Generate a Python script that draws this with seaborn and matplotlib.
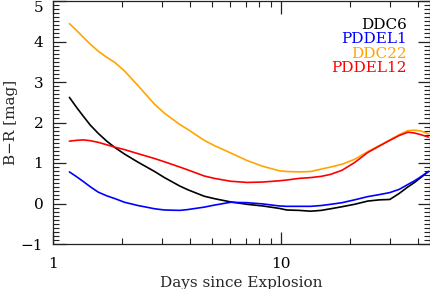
import numpy as np
import pandas as pd
import matplotlib
matplotlib.use("Agg")
import matplotlib.pyplot as plt
import matplotlib.ticker as mticker
import seaborn as sns

# ---- data ----
days = [1.18, 1.27, 1.36, 1.46, 1.58, 1.72, 1.87, 2.06, 2.36, 2.79, 3.08, 3.6, 3.9, 4.6,
        5.1, 6.0, 7.1, 8.3, 9.8, 10.6, 12, 13.5, 15, 16.5, 18.5, 21, 24, 27, 30, 33, 36,
        38.5, 41, 44.3]
ddc6 = [2.62, 2.37, 2.15, 1.93, 1.73, 1.54, 1.38, 1.22, 1.02, 0.79, 0.64, 0.43, 0.34, 0.18,
        0.12, 0.04, -0.02, -0.06, -0.12, -0.16, -0.17, -0.19, -0.17, -0.13, -0.08, -0.02,
        0.06, 0.09, 0.10, 0.25, 0.41, 0.52, 0.64, 0.79]
pddel1 = [0.78, 0.66, 0.54, 0.41, 0.28, 0.19, 0.12, 0.03, -0.05, -0.13, -0.16, -0.17, -0.15,
          -0.09, -0.04, 0.03, 0.02, -0.01, -0.06, -0.07, -0.07, -0.07, -0.05, -0.02, 0.02,
          0.09, 0.17, 0.22, 0.27, 0.35, 0.47, 0.56, 0.66, 0.79]
ddc22 = [4.44, 4.27, 4.10, 3.93, 3.76, 3.61, 3.48, 3.27, 2.91, 2.45, 2.23, 1.95, 1.83, 1.56,
         1.43, 1.25, 1.06, 0.92, 0.81, 0.79, 0.78, 0.79, 0.85, 0.90, 0.97, 1.09, 1.28, 1.43,
         1.57, 1.70, 1.80, 1.81, 1.79, 1.72]
pddel12 = [1.54, 1.56, 1.57, 1.55, 1.51, 1.45, 1.39, 1.33, 1.23, 1.11, 1.03, 0.90, 0.83, 0.68,
           0.62, 0.55, 0.52, 0.53, 0.56, 0.58, 0.62, 0.64, 0.67, 0.72, 0.82, 1.01, 1.26, 1.42,
           1.56, 1.68, 1.76, 1.74, 1.70, 1.64]
models = ["DDC6", "PDDEL1", "DDC22", "PDDEL12"]
colors = ["black", "blue", "orange", "red"]
series = [ddc6, pddel1, ddc22, pddel12]
y_ticks = [-1, 0, 1, 2, 3, 4, 5]
x_ticks = [1, 10]
x_ticklabels = ["1", "10"]

df = pd.DataFrame({
    "days": np.tile(days, len(models)),
    "color": np.concatenate(series),
    "model": np.repeat(models, len(days)),
})

sns.set_theme(style="ticks")
plt.rcParams["font.family"] = ["DejaVu Serif"]
plt.rcParams["axes.unicode_minus"] = True

fig = plt.figure(figsize=(4.31, 2.89), dpi=100)
ax = fig.add_axes([53 / 431, 1 - 244 / 289, 377 / 431, 243 / 289])

sns.lineplot(data=df, x="days", y="color", hue="model", hue_order=models,
             palette=dict(zip(models, colors)), linewidth=1.2, legend=False,
             estimator=None, sort=False, ax=ax)

ax.set_xscale("log")
ax.set_xlim(1, 45)
ax.set_ylim(-1, 5)
ax.xaxis.set_major_locator(mticker.FixedLocator(x_ticks))
ax.xaxis.set_major_formatter(mticker.FixedFormatter(x_ticklabels))
ax.xaxis.set_minor_locator(mticker.LogLocator(base=10, subs=np.arange(2, 10)))
ax.xaxis.set_minor_formatter(mticker.NullFormatter())
ax.yaxis.set_major_locator(mticker.FixedLocator(y_ticks))
ax.yaxis.set_minor_locator(mticker.MultipleLocator(0.1))

ax.tick_params(which="both", direction="in", top=True, right=True, colors="#222222",
               labelcolor="black", labelsize=11)
ax.tick_params(which="major", length=9, width=0.9)
ax.tick_params(which="minor", length=4.5, width=0.8)
ax.tick_params(axis="x", which="major", pad=9)
ax.tick_params(axis="y", which="major", pad=7)
for s in ax.spines.values():
    s.set_color("#222222")
    s.set_linewidth(0.9)

ax.set_xlabel("Days since Explosion", fontsize=11, labelpad=4)
ax.set_ylabel("B\u2212R [mag]", fontsize=11, labelpad=2)

for i, (m, c) in enumerate(zip(models, colors)):
    ax.text(0.938, 0.902 - i * 0.0595, m, color=c, ha="right", va="center",
            fontsize=11, transform=ax.transAxes)

fig.canvas.draw()
ax.yaxis.get_major_ticks()[len(y_ticks) - 1].label1.set_va("top")

fig.savefig("out.png", dpi=100)
